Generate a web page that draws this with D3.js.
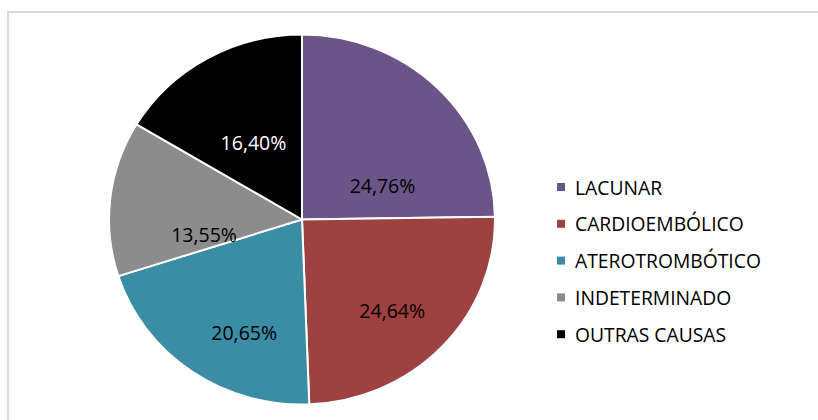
<!DOCTYPE html>
<html>
<head>
<meta charset="utf-8">
<script src="https://cdn.jsdelivr.net/npm/d3@7"></script>
<style>
  html, body { margin: 0; padding: 0; background: #fff; }
  svg text { font-family: "Open Sans", "Noto Sans", sans-serif; }
</style>
</head>
<body>
<svg id="chart"></svg>
<script>
const width = 818;
const height = 420;

// data
const categories = ["LACUNAR", "CARDIOEMBÓLICO", "ATEROTROMBÓTICO", "INDETERMINADO", "OUTRAS CAUSAS"];
const values = [24.76, 24.64, 20.65, 13.55, 16.40];
const labels = ["24,76%", "24,64%", "20,65%", "13,55%", "16,40%"];
const colors = ["#6b5588", "#9e4141", "#3b8da5", "#8c8c8c", "#000000"];

// label nudges from centroid (Excel best-fit placement)
const labelNudge = [[0, 44], [7, 15], [8, 23], [16, 28], [8, 19]];

const cx = 302, cy = 219.5, r = 185, sx = 1.043;

var svg = d3.select("svg")
  .attr("width", width)
  .attr("height", height);

// chart frame
svg.append("rect")
  .attr("x", 8)
  .attr("y", 12)
  .attr("width", 830)
  .attr("height", 430)
  .attr("fill", "none")
  .attr("stroke", "#d9d9d9")
  .attr("stroke-width", 2);

const pie = d3.pie().sort(null).value(d => d);
const arcs = pie(values);

const arc = d3.arc().innerRadius(0).outerRadius(r);
const labelArc = d3.arc().innerRadius(110).outerRadius(110);

const g = svg.append("g")
  .attr("transform", "translate(" + cx + "," + cy + ") scale(" + sx + ",1)");

g.selectAll("path")
  .data(arcs)
  .enter().append("path")
  .attr("d", arc)
  .attr("fill", (d, i) => colors[i])
  .attr("stroke", "#fff")
  .attr("stroke-width", 2)
  .attr("vector-effect", "non-scaling-stroke");

// value labels
svg.append("g")
  .selectAll("text")
  .data(arcs)
  .enter().append("text")
  .attr("x", (d, i) => cx + labelArc.centroid(d)[0] * sx + labelNudge[i][0])
  .attr("y", (d, i) => cy + labelArc.centroid(d)[1] + labelNudge[i][1])
  .attr("text-anchor", "middle")
  .attr("dominant-baseline", "central")
  .attr("font-size", 19.5)
  .attr("fill", (d, i) => i === 4 ? "#fff" : "#000")
  .text((d, i) => labels[i]);

// legend
const legend = svg.append("g")
  .attr("transform", "translate(557,187)");

const row = legend.selectAll("g")
  .data(categories)
  .enter().append("g")
  .attr("transform", (d, i) => "translate(0," + (i * 36.8) + ")");

row.append("rect")
  .attr("x", 0)
  .attr("y", -4)
  .attr("width", 8)
  .attr("height", 8)
  .attr("fill", (d, i) => colors[i]);

row.append("text")
  .attr("x", 18)
  .attr("y", 0)
  .attr("dominant-baseline", "central")
  .attr("font-size", 19.3)
  .attr("fill", "#000")
  .text(d => d);
</script>
</body>
</html>
